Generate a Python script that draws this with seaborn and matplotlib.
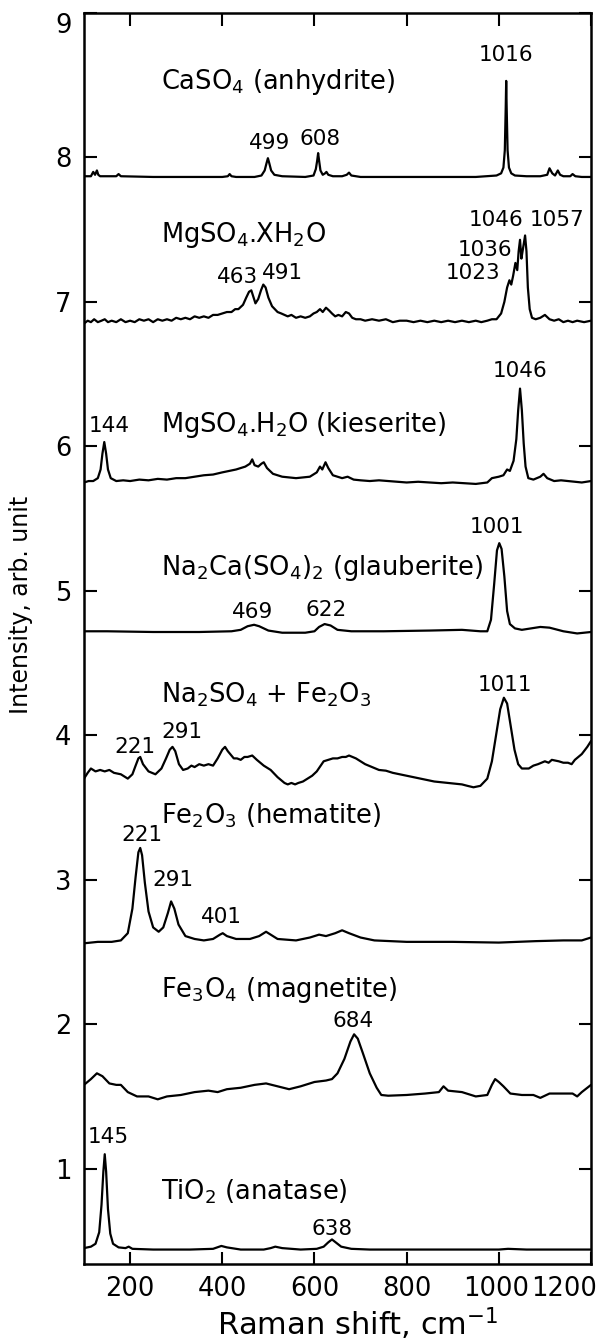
import pandas as pd
import seaborn as sns
import matplotlib.pyplot as plt
from matplotlib.transforms import ScaledTranslation

# traced spectra, (Raman shift, offset intensity)
caso4 = [(100, 7.87), (115, 7.87), (120, 7.90), (124, 7.88), (128, 7.91), (131, 7.88), (135, 7.87),
         (170, 7.87), (175, 7.885), (180, 7.87), (250, 7.865), (400, 7.865), (412, 7.87), (416, 7.885),
         (420, 7.87), (430, 7.865), (470, 7.865), (485, 7.875), (492, 7.91), (496, 7.96), (499, 7.995),
         (502, 7.96), (506, 7.91), (513, 7.88), (530, 7.87), (580, 7.865), (598, 7.875), (603, 7.92),
         (606, 7.98), (608, 8.03), (610, 7.98), (613, 7.91), (618, 7.88), (623, 7.89), (626, 7.90),
         (630, 7.88), (640, 7.87), (660, 7.87), (670, 7.88), (675, 7.895), (680, 7.875), (700, 7.865),
         (800, 7.865), (950, 7.865), (995, 7.875), (1005, 7.89), (1010, 7.93), (1013, 8.05), (1015, 8.35),
         (1016, 8.53), (1017, 8.35), (1019, 8.05), (1022, 7.93), (1027, 7.89), (1035, 7.875), (1060, 7.87),
         (1090, 7.87), (1105, 7.88), (1110, 7.925), (1116, 7.89), (1122, 7.875), (1128, 7.91), (1133, 7.88),
         (1140, 7.87), (1155, 7.87), (1160, 7.885), (1166, 7.87), (1180, 7.865), (1200, 7.865)]

mgso4_xh2o = [(100, 6.85), (108, 6.87), (115, 6.86), (122, 6.88), (130, 6.86), (138, 6.87), (145, 6.88),
              (152, 6.86), (160, 6.87), (170, 6.86), (180, 6.88), (190, 6.86), (200, 6.87), (210, 6.86),
              (220, 6.88), (230, 6.87), (240, 6.88), (250, 6.86), (260, 6.88), (270, 6.87), (280, 6.88),
              (290, 6.87), (300, 6.89), (310, 6.88), (320, 6.89), (330, 6.88), (340, 6.90), (350, 6.89),
              (360, 6.90), (370, 6.89), (380, 6.91), (390, 6.91), (400, 6.92), (410, 6.93), (420, 6.93),
              (428, 6.95), (435, 6.95), (445, 6.98), (452, 7.03), (458, 7.07), (463, 7.08), (468, 7.03),
              (472, 6.99), (478, 7.02), (484, 7.08), (489, 7.12), (494, 7.10), (500, 7.03), (508, 6.97),
              (520, 6.93), (528, 6.92), (535, 6.91), (542, 6.90), (550, 6.91), (560, 6.89), (570, 6.90),
              (580, 6.89), (590, 6.90), (598, 6.92), (605, 6.93), (612, 6.95), (618, 6.93), (625, 6.96),
              (632, 6.94), (638, 6.92), (645, 6.90), (652, 6.91), (660, 6.90), (668, 6.93), (675, 6.92),
              (682, 6.89), (690, 6.88), (700, 6.88), (710, 6.87), (725, 6.88), (740, 6.87), (755, 6.88),
              (770, 6.86), (785, 6.87), (800, 6.87), (815, 6.86), (830, 6.87), (845, 6.86), (860, 6.87),
              (875, 6.86), (890, 6.87), (905, 6.86), (920, 6.87), (935, 6.86), (950, 6.87), (962, 6.86),
              (975, 6.87), (985, 6.88), (995, 6.88), (1005, 6.92), (1012, 7.00), (1018, 7.10), (1023, 7.15),
              (1027, 7.12), (1031, 7.18), (1036, 7.27), (1040, 7.22), (1043, 7.35), (1046, 7.43), (1049, 7.30),
              (1052, 7.36), (1057, 7.46), (1060, 7.35), (1063, 7.10), (1067, 6.95), (1072, 6.89), (1080, 6.88),
              (1090, 6.89), (1100, 6.91), (1110, 6.88), (1120, 6.87), (1130, 6.88), (1140, 6.86), (1150, 6.87),
              (1160, 6.86), (1170, 6.87), (1185, 6.86), (1200, 6.87)]

kieserite = [(100, 5.75), (110, 5.76), (120, 5.76), (130, 5.78), (136, 5.84), (140, 5.95), (144, 6.03),
             (148, 5.95), (152, 5.84), (158, 5.78), (170, 5.76), (185, 5.765), (200, 5.76), (220, 5.77),
             (240, 5.765), (260, 5.775), (280, 5.77), (300, 5.78), (320, 5.78), (340, 5.79), (360, 5.80),
             (380, 5.805), (400, 5.82), (415, 5.83), (430, 5.84), (450, 5.86), (460, 5.88), (465, 5.91),
             (470, 5.87), (478, 5.86), (485, 5.88), (490, 5.89), (497, 5.85), (510, 5.81), (530, 5.79),
             (545, 5.785), (560, 5.78), (575, 5.785), (590, 5.79), (605, 5.82), (612, 5.86), (617, 5.84),
             (624, 5.89), (630, 5.85), (640, 5.80), (660, 5.78), (672, 5.79), (685, 5.77), (700, 5.765),
             (720, 5.76), (740, 5.765), (760, 5.76), (780, 5.755), (800, 5.75), (825, 5.755), (850, 5.75),
             (875, 5.745), (900, 5.75), (925, 5.745), (950, 5.74), (975, 5.75), (985, 5.78), (1000, 5.79),
             (1010, 5.80), (1018, 5.84), (1024, 5.83), (1032, 5.90), (1038, 6.05), (1042, 6.25), (1046, 6.40),
             (1050, 6.25), (1054, 6.02), (1058, 5.86), (1064, 5.78), (1075, 5.77), (1090, 5.79), (1097, 5.81),
             (1105, 5.78), (1120, 5.76), (1135, 5.765), (1150, 5.76), (1165, 5.755), (1180, 5.75), (1200, 5.76)]

glauberite = [(100, 4.72), (150, 4.72), (250, 4.715), (350, 4.715), (420, 4.72), (440, 4.73), (455, 4.755),
              (469, 4.765), (480, 4.755), (500, 4.725), (530, 4.71), (580, 4.71), (600, 4.72), (610, 4.75),
              (622, 4.77), (635, 4.76), (650, 4.73), (680, 4.72), (750, 4.72), (850, 4.725), (920, 4.73),
              (960, 4.72), (975, 4.72), (983, 4.80), (990, 5.05), (996, 5.28), (1001, 5.33), (1006, 5.29),
              (1012, 5.10), (1018, 4.86), (1024, 4.77), (1035, 4.74), (1050, 4.73), (1070, 4.74), (1090, 4.75),
              (1110, 4.745), (1140, 4.72), (1170, 4.705), (1200, 4.715)]

na2so4_fe2o3 = [(100, 3.70), (108, 3.74), (115, 3.77), (125, 3.75), (135, 3.76), (145, 3.75), (155, 3.76),
                (165, 3.74), (180, 3.73), (195, 3.70), (205, 3.73), (212, 3.79), (218, 3.84), (222, 3.85),
                (228, 3.80), (240, 3.75), (255, 3.73), (268, 3.77), (278, 3.84), (286, 3.90), (292, 3.92),
                (298, 3.89), (306, 3.80), (315, 3.76), (325, 3.77), (333, 3.79), (340, 3.78), (350, 3.80),
                (360, 3.79), (370, 3.80), (380, 3.79), (390, 3.84), (400, 3.90), (406, 3.92), (412, 3.89),
                (425, 3.84), (432, 3.84), (440, 3.83), (448, 3.85), (455, 3.85), (465, 3.86), (475, 3.83),
                (490, 3.79), (505, 3.76), (520, 3.71), (535, 3.67), (542, 3.66), (550, 3.67), (558, 3.66),
                (565, 3.67), (575, 3.68), (585, 3.70), (595, 3.72), (605, 3.75), (620, 3.82), (630, 3.83),
                (640, 3.84), (650, 3.84), (660, 3.85), (668, 3.85), (675, 3.86), (690, 3.84), (700, 3.82),
                (710, 3.80), (725, 3.78), (740, 3.76), (755, 3.755), (770, 3.74), (785, 3.73), (800, 3.72),
                (815, 3.71), (830, 3.70), (845, 3.69), (860, 3.68), (875, 3.675), (890, 3.67), (905, 3.665),
                (920, 3.66), (932, 3.65), (945, 3.64), (960, 3.65), (975, 3.70), (985, 3.82), (995, 4.02),
                (1003, 4.18), (1011, 4.26), (1018, 4.22), (1026, 4.06), (1034, 3.90), (1042, 3.80), (1050, 3.77),
                (1065, 3.77), (1075, 3.79), (1085, 3.80), (1100, 3.82), (1108, 3.81), (1115, 3.83), (1130, 3.82),
                (1140, 3.81), (1150, 3.81), (1158, 3.80), (1165, 3.83), (1180, 3.87), (1192, 3.92), (1200, 3.96)]

hematite = [(100, 2.56), (130, 2.57), (160, 2.57), (180, 2.58), (195, 2.63), (205, 2.80), (212, 3.02),
            (218, 3.19), (222, 3.22), (226, 3.17), (232, 2.98), (240, 2.78), (250, 2.67), (262, 2.64),
            (272, 2.67), (282, 2.77), (289, 2.85), (296, 2.80), (305, 2.69), (320, 2.61), (340, 2.59),
            (360, 2.58), (380, 2.59), (395, 2.62), (401, 2.63), (410, 2.61), (430, 2.59), (460, 2.59),
            (480, 2.61), (495, 2.64), (505, 2.62), (520, 2.59), (560, 2.58), (590, 2.60), (610, 2.62),
            (625, 2.61), (645, 2.63), (660, 2.65), (675, 2.63), (700, 2.60), (730, 2.58), (800, 2.57),
            (900, 2.57), (1000, 2.565), (1080, 2.575), (1140, 2.58), (1180, 2.58), (1200, 2.60)]

magnetite = [(100, 1.58), (115, 1.62), (128, 1.66), (140, 1.64), (155, 1.59), (170, 1.58), (180, 1.58),
             (195, 1.53), (215, 1.50), (240, 1.50), (260, 1.48), (280, 1.50), (310, 1.51), (340, 1.53),
             (370, 1.54), (390, 1.53), (410, 1.55), (440, 1.56), (470, 1.58), (495, 1.59), (520, 1.57),
             (545, 1.55), (570, 1.57), (600, 1.60), (625, 1.61), (638, 1.62), (650, 1.66), (665, 1.76),
             (678, 1.88), (686, 1.93), (694, 1.90), (705, 1.80), (720, 1.66), (735, 1.56), (745, 1.51),
             (760, 1.505), (800, 1.51), (840, 1.52), (870, 1.53), (880, 1.57), (890, 1.54), (920, 1.53),
             (950, 1.50), (975, 1.51), (985, 1.58), (992, 1.62), (1000, 1.60), (1010, 1.57), (1025, 1.52),
             (1050, 1.51), (1075, 1.51), (1090, 1.49), (1110, 1.52), (1140, 1.52), (1160, 1.52), (1170, 1.50),
             (1180, 1.53), (1200, 1.58)]

anatase = [(100, 0.45), (115, 0.46), (125, 0.48), (133, 0.56), (138, 0.75), (142, 0.98), (145, 1.10),
           (148, 0.98), (152, 0.72), (157, 0.55), (163, 0.48), (175, 0.455), (190, 0.45), (197, 0.46),
           (205, 0.445), (250, 0.44), (330, 0.44), (380, 0.445), (398, 0.465), (410, 0.455), (440, 0.44),
           (490, 0.44), (505, 0.45), (515, 0.46), (530, 0.45), (570, 0.44), (605, 0.445), (620, 0.46),
           (630, 0.49), (638, 0.51), (646, 0.49), (658, 0.46), (680, 0.445), (720, 0.44), (850, 0.44),
           (1000, 0.44), (1020, 0.445), (1060, 0.44), (1200, 0.44)]

spectra = {
    "anhydrite": caso4, "mgso4_xh2o": mgso4_xh2o, "kieserite": kieserite, "glauberite": glauberite,
    "na2so4_fe2o3": na2so4_fe2o3, "hematite": hematite, "magnetite": magnetite, "anatase": anatase,
}

# sample names, left edge x and centre y
sample_labels = [
    ("CaSO$_4$ (anhydrite)", 268, 8.52),
    ("MgSO$_4$.XH$_2$O", 268, 7.46),
    ("MgSO$_4$.H$_2$O (kieserite)", 268, 6.15),
    ("Na$_2$Ca(SO$_4$)$_2$ (glauberite)", 268, 5.16),
    ("Na$_2$SO$_4$ + Fe$_2$O$_3$", 268, 4.28),
    ("Fe$_2$O$_3$ (hematite)", 268, 3.44),
    ("Fe$_3$O$_4$ (magnetite)", 268, 2.24),
    ("TiO$_2$ (anatase)", 268, 0.84),
]

# peak positions, centre x and centre y
peak_labels = [
    ("1016", 1016, 8.71), ("499", 502, 8.10), ("608", 612, 8.13),
    ("463", 432, 7.17), ("491", 530, 7.20),
    ("1046", 995, 7.57), ("1057", 1127, 7.57), ("1036", 971, 7.36), ("1023", 945, 7.20),
    ("144", 155, 6.14), ("1046", 1046, 6.52),
    ("1001", 995, 5.44), ("469", 465, 4.85), ("622", 625, 4.87),
    ("1011", 1013, 4.35), ("221", 210, 3.92), ("291", 312, 4.02),
    ("221", 225, 3.31), ("291", 292, 3.00), ("401", 398, 2.74),
    ("684", 684, 2.02),
    ("145", 152, 1.22), ("638", 638, 0.58),
]

x_ticks = [200, 400, 600, 800, 1000, 1200]
y_ticks = [1, 2, 3, 4, 5, 6, 7, 8, 9]


def main() -> None:
    sns.set_style("ticks")
    plt.rcParams["font.family"] = ["DejaVu Sans"]
    plt.rcParams["mathtext.fontset"] = "dejavusans"
    for key in ["text.color", "axes.labelcolor", "xtick.color", "ytick.color", "axes.edgecolor"]:
        plt.rcParams[key] = "black"

    rows = []
    for name, pts in spectra.items():
        for x, y in pts:
            rows.append({"sample": name, "shift": x, "intensity": y})
    data = pd.DataFrame(rows)

    fig = plt.figure(figsize=(6.02, 13.43), dpi=100)
    ax = fig.add_axes([84 / 602, 1 - 1264 / 1343, 507 / 602, 1251 / 1343])

    sns.lineplot(
        data=data, x="shift", y="intensity", units="sample", estimator=None,
        sort=False, color="black", linewidth=1.6, ax=ax, legend=False,
    )

    for text, x, y in sample_labels:
        ax.text(x, y, text, fontsize=18.5, ha="left", va="center")
    for text, x, y in peak_labels:
        ax.text(x, y, text, fontsize=15.5, ha="center", va="center")

    ax.set_xlim(100, 1200)
    ax.set_ylim(0.34, 9)
    ax.set_xticks(x_ticks)
    ax.set_yticks(y_ticks)
    ax.set_xticklabels([str(t) for t in x_ticks])
    ax.set_yticklabels([str(t) for t in y_ticks])

    ax.tick_params(direction="in", top=True, right=True, length=9, width=1.5,
                   labelsize=18.5, pad=9)
    # last labels pulled inside the figure, as in the original
    last_x = ax.get_xticklabels()[-1]
    last_x.set_horizontalalignment("right")
    last_x.set_transform(last_x.get_transform() + ScaledTranslation(6 / 100, 0, fig.dpi_scale_trans))
    prev_x = ax.get_xticklabels()[-2]
    prev_x.set_transform(prev_x.get_transform() + ScaledTranslation(-3 / 100, 0, fig.dpi_scale_trans))
    ax.get_yticklabels()[-1].set_verticalalignment("top")

    for s in ax.spines.values():
        s.set_linewidth(1.8)

    ax.set_xlabel("Raman shift, cm$^{-1}$", fontsize=22)
    ax.set_ylabel("Intensity, arb. unit", fontsize=17)
    ax.xaxis.set_label_coords(0.54, -0.033)
    ax.yaxis.set_label_coords(-0.10, 0.527)

    fig.savefig("out.png", dpi=100)
    plt.close(fig)


if __name__ == "__main__":
    main()
